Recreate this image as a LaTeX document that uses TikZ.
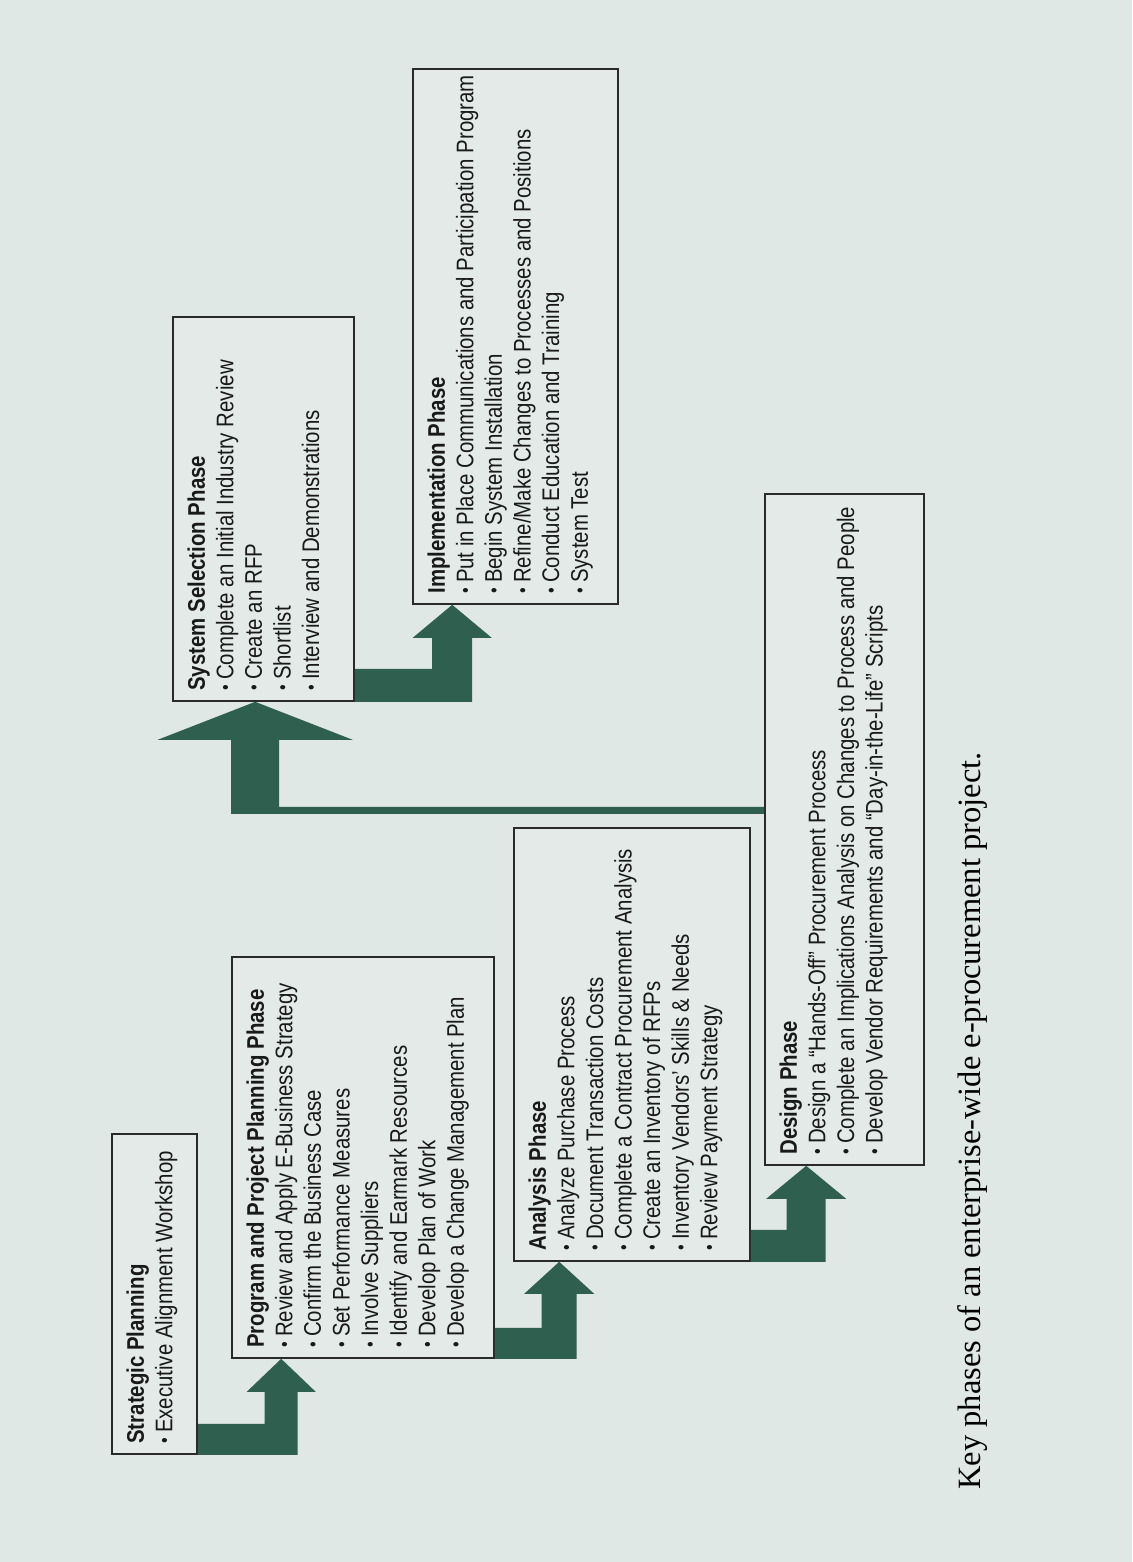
\documentclass[tikz,border=0pt]{standalone}
\usepackage{fontspec}
\newfontfamily\phasefont{Liberation Sans}[FakeStretch=0.85]
\newfontfamily\capfont{Liberation Serif}
\usetikzlibrary{calc}
\definecolor{paper}{HTML}{DFE8E4}
\definecolor{boxfill}{HTML}{E4EAE7}
\definecolor{flowgreen}{HTML}{2F5F4E}
\definecolor{edge}{HTML}{2A2A2A}
% bullet used in front of every task
\newcommand{\itm}{\raisebox{0.12ex}{\fontsize{19}{19}\selectfont\textbullet}\hspace{5pt}}
% L-shaped block arrow: band leaves the bottom-right corner of #1,
% turns up and ends with a head whose tip is at #2
% #3 band thickness, #4 shaft width, #5 head width, #6 head length
\newcommand{\phaseflow}[6]{%
  \fill[flow] let \p1=(#1.south east), \p2=(#2) in
    (\x1,\y1) -- (\x2+#4/2,\y1) -- (\x2+#4/2,\y2-#6) -- (\x2+#5/2,\y2-#6)
    -- (\x2,\y2) -- (\x2-#5/2,\y2-#6) -- (\x2-#4/2,\y2-#6)
    -- (\x2-#4/2,\y1+#3) -- (\x1,\y1+#3) -- cycle;}
\begin{document}
\begin{tikzpicture}[x=1pt,y=-1pt,
  phase/.style={draw=edge, line width=1.6pt, fill=boxfill, rectangle, inner sep=0pt},
  phasetext/.style={rotate=90, anchor=north west, inner sep=0pt, align=left,
    font=\phasefont\fontsize{24}{28.6}\selectfont, text=black!90},
  flow/.style={fill=flowgreen}]
\fill[paper] (0,0) rectangle (1132,1562);
\useasboundingbox (0,0) rectangle (1132,1562);

% phase boxes
\node[phase, minimum width=85pt,  minimum height=320pt] (b1) at (154.5,1294) {};
\node[phase, minimum width=262pt, minimum height=401pt] (b2) at (363,1157.5) {};
\node[phase, minimum width=236pt, minimum height=433pt] (b3) at (632,1044.5) {};
\node[phase, minimum width=159pt, minimum height=671pt] (b4) at (844.5,829.5) {};
\node[phase, minimum width=181pt, minimum height=384pt] (b5) at (263.5,509) {};
\node[phase, minimum width=205pt, minimum height=535pt] (b6) at (515.5,336.5) {};

% box contents
\node[phasetext] (t1) at ($(b1.south west)+(15,-11)$)
  {\textbf{Strategic Planning}\\\itm Executive Alignment Workshop};
\node[phasetext] (t2) at ($(b2.south west)+(15,-11)$)
  {\textbf{Program and Project Planning Phase}\\
   \itm Review and Apply E-Business Strategy\\
   \itm Confirm the Business Case\\
   \itm Set Performance Measures\\
   \itm Involve Suppliers\\
   \itm Identify and Earmark Resources\\
   \itm Develop Plan of Work\\
   \itm Develop a Change Management Plan};
\node[phasetext] (t3) at ($(b3.south west)+(15,-11)$)
  {\textbf{Analysis Phase}\\
   \itm Analyze Purchase Process\\
   \itm Document Transaction Costs\\
   \itm Complete a Contract Procurement Analysis\\
   \itm Create an Inventory of RFPs\\
   \itm Inventory Vendors’ Skills \& Needs\\
   \itm Review Payment Strategy};
\node[phasetext] (t4) at ($(b4.south west)+(15,-11)$)
  {\textbf{Design Phase}\\
   \itm Design a “Hands-Off” Procurement Process\\
   \itm Complete an Implications Analysis on Changes to Process and People\\
   \itm Develop Vendor Requirements and “Day-in-the-Life” Scripts};
\node[phasetext] (t5) at ($(b5.south west)+(15,-11)$)
  {\textbf{System Selection Phase}\\
   \itm Complete an Initial Industry Review\\
   \itm Create an RFP\\
   \itm Shortlist\\
   \itm Interview and Demonstrations};
\node[phasetext] (t6) at ($(b6.south west)+(15,-11)$)
  {\textbf{Implementation Phase}\\
   \itm Put in Place Communications and Participation Program\\
   \itm Begin System Installation\\
   \itm Refine/Make Changes to Processes and Positions\\
   \itm Conduct Education and Training\\
   \itm System Test};

% arrow tips on the bottom edge of the next phase
\coordinate (p1) at ($(b2.south west)+(50,0)$);
\coordinate (p2) at ($(b3.south west)+(46,0)$);
\coordinate (p3) at ($(b4.south west)+(42,0)$);
\coordinate (p4) at ($(b6.south west)+(40,0)$);
\coordinate (p5) at ($(b5.south west)+(83,0)$);
\coordinate (d5) at ($(b4.south west)+(0,-352)$);

\phaseflow{b1}{p1}{31pt}{33pt}{69pt}{33pt}
\phaseflow{b2}{p2}{31pt}{35pt}{70pt}{32pt}
\phaseflow{b3}{p3}{32pt}{39pt}{80pt}{33pt}
\phaseflow{b5}{p4}{33pt}{40pt}{79pt}{33pt}

% long return arrow from the design phase to system selection
\fill[flow] let \p1=(d5), \p2=(p5) in
  (\x1,\y1) -- (\x2-24pt,\y1) -- (\x2-24pt,\y2-38pt) -- (\x2-97.5pt,\y2-38pt)
  -- (\x2,\y2) -- (\x2+97.5pt,\y2-38pt) -- (\x2+24pt,\y2-38pt)
  -- (\x2+24pt,\y1+7pt) -- (\x1,\y1+7pt) -- cycle;

% caption
\node[rotate=90, inner sep=0pt, font=\capfont\fontsize{32.5}{32.5}\selectfont] (cap) at (973,1121)
  {Key phases of an enterprise-wide e-procurement project.};
\end{tikzpicture}
\end{document}
